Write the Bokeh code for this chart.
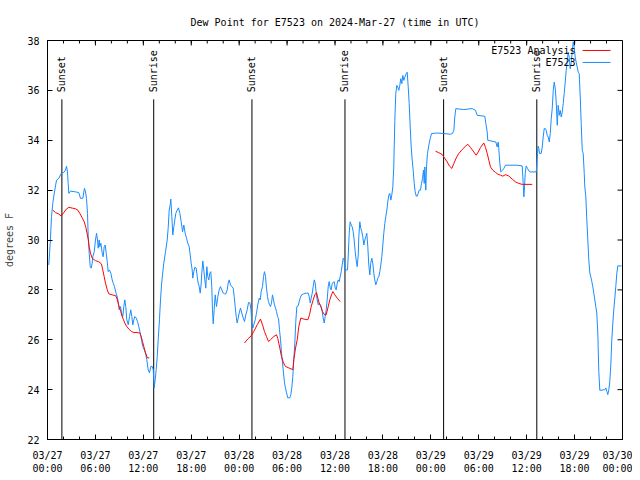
import math
from bokeh.plotting import figure
from bokeh.models import Range1d, FixedTicker, Label, Arrow
from bokeh.core.properties import value
from bokeh.embed import file_html
from bokeh.resources import INLINE

FONT = "DejaVu Sans Mono"

# hours after 2024-03-27 00:00 UTC, dew point in degrees F
obs_hours = [0.16, 0.34, 0.50, 0.66, 0.91, 1.13, 1.42, 1.72, 2.04, 2.25, 2.38, 2.50, 2.59, 2.67, 2.88, 3.51, 3.92, 4.13, 4.42, 4.63,
             4.76, 4.88, 5.01, 5.10, 5.22, 5.35, 5.47, 5.60, 5.67, 5.85, 6.01, 6.14, 6.26, 6.35, 6.47, 6.55, 6.68, 6.85, 6.97, 7.10,
             7.23, 7.35, 7.48, 7.60, 7.76, 7.93, 8.10, 8.23, 8.39, 8.60, 8.73, 8.85, 8.98, 9.14, 9.27, 9.43, 9.55, 9.68, 9.80, 9.93,
             10.11, 10.27, 10.43, 10.56, 10.68, 10.81, 10.93, 11.11, 11.27, 11.43, 11.61, 11.77, 11.93, 12.11, 12.27, 12.43, 12.61, 12.77, 12.94, 13.11,
             13.24, 13.36, 13.49, 13.61, 13.74, 13.86, 14.02, 14.15, 14.28, 14.40, 14.56, 14.78, 14.99, 15.11, 15.24, 15.36, 15.44, 15.57, 15.69, 15.82,
             15.94, 16.07, 16.24, 16.40, 16.57, 16.74, 16.91, 17.07, 17.24, 17.41, 17.57, 17.74, 17.87, 17.99, 18.12, 18.19, 18.32, 18.45, 18.62, 18.75,
             18.87, 19.00, 19.12, 19.25, 19.32, 19.45, 19.57, 19.70, 19.82, 19.95, 20.07, 20.20, 20.32, 20.45, 20.57, 20.66, 20.75, 20.87, 21.00, 21.16,
             21.33, 21.50, 21.66, 21.83, 22.00, 22.16, 22.33, 22.50, 22.63, 22.75, 22.92, 23.08, 23.25, 23.38, 23.50, 23.63, 23.75, 23.88, 24.00, 24.17,
             24.33, 24.51, 24.67, 24.83, 25.01, 25.17, 25.33, 25.46, 25.58, 25.71, 25.83, 26.01, 26.17, 26.33, 26.51, 26.63, 26.76, 26.92, 27.05, 27.17,
             27.30, 27.42, 27.55, 27.67, 27.80, 27.92, 28.05, 28.17, 28.30, 28.42, 28.55, 28.68, 28.80, 28.93, 29.05, 29.18, 29.30, 29.43, 29.55, 29.68,
             29.80, 29.93, 30.09, 30.34, 30.47, 30.59, 30.72, 30.84, 30.97, 31.09, 31.22, 31.39, 31.52, 31.64, 31.81, 32.06, 32.39, 32.65, 32.77, 32.90,
             33.02, 33.15, 33.27, 33.40, 33.52, 33.65, 33.77, 33.90, 34.02, 34.15, 34.27, 34.40, 34.52, 34.65, 34.77, 34.90, 35.02, 35.15, 35.27, 35.40,
             35.53, 35.65, 35.90, 36.03, 36.15, 36.28, 36.40, 36.53, 36.65, 36.78, 36.90, 37.03, 37.15, 37.23, 37.57, 37.69, 37.78, 37.90, 38.03, 38.15,
             38.28, 38.40, 38.53, 38.65, 38.78, 38.91, 38.98, 39.11, 39.23, 39.36, 39.48, 39.61, 39.73, 39.86, 39.98, 40.11, 40.23, 40.36, 40.48, 40.61,
             40.73, 40.86, 40.98, 41.11, 41.24, 41.36, 41.49, 41.61, 41.74, 41.86, 41.99, 42.11, 42.24, 42.36, 42.49, 42.61, 42.74, 42.86, 42.99, 43.11,
             43.24, 43.36, 43.49, 43.61, 43.74, 43.86, 43.99, 44.11, 44.24, 44.37, 44.49, 44.62, 44.74, 44.92, 45.04, 45.17, 45.29, 45.42, 45.54, 45.67,
             45.79, 45.92, 46.04, 46.17, 46.29, 46.42, 46.54, 46.71, 46.83, 46.96, 47.08, 47.17, 47.25, 47.37, 47.46, 47.58, 47.75, 47.92, 48.09, 48.80,
             49.62, 50.47, 50.71, 50.88, 51.00, 51.13, 52.13, 53.18, 53.60, 53.81, 54.76, 54.89, 55.06, 55.13, 56.14, 56.31, 56.44, 56.51, 56.64, 56.76,
             56.98, 57.14, 57.35, 58.82, 59.44, 59.52, 59.65, 59.73, 59.82, 59.94, 60.11, 60.27, 60.48, 61.20, 61.27, 61.36, 61.44, 61.52, 61.61, 61.82,
             61.95, 62.07, 62.20, 62.32, 62.45, 62.57, 62.70, 62.83, 62.95, 63.08, 63.20, 63.33, 63.45, 63.58, 63.70, 63.83, 63.95, 64.08, 64.20, 64.33,
             64.45, 64.58, 64.70, 64.83, 64.95, 65.08, 65.20, 65.33, 65.45, 65.58, 65.70, 65.83, 65.95, 66.08, 66.20, 66.33, 66.46, 66.58, 66.71, 66.83,
             66.96, 67.08, 67.21, 67.28, 67.41, 67.53, 67.66, 67.78, 67.91, 68.03, 68.16, 68.28, 68.41, 68.53, 68.66, 68.78, 68.91, 69.03, 69.16, 69.79,
             69.91, 70.04, 70.16, 70.29, 70.41, 70.54, 70.66, 70.79, 70.91, 71.04, 71.16, 71.29, 71.41, 71.88]
obs_dewpt = [29.00, 29.87, 30.93, 31.47, 32.00, 32.40, 32.47, 32.67, 32.71, 32.80, 32.96, 32.73, 32.27, 31.87, 31.96, 31.93, 31.90, 31.67, 31.67, 32.07,
             31.93, 31.67, 31.07, 30.13, 29.47, 28.93, 28.87, 29.07, 29.33, 29.53, 30.00, 30.27, 30.00, 29.67, 30.00, 29.73, 29.87, 29.47, 29.33, 29.73,
             29.80, 29.47, 29.13, 28.73, 28.80, 28.67, 28.40, 28.27, 28.13, 27.84, 27.73, 27.53, 27.20, 27.33, 27.07, 26.93, 27.33, 27.60, 27.33, 26.80,
             26.60, 26.93, 27.20, 26.93, 26.60, 26.80, 26.93, 26.87, 26.73, 26.53, 26.27, 26.00, 25.73, 25.60, 25.47, 25.20, 24.80, 24.67, 24.93, 24.93,
             24.80, 24.07, 24.40, 24.80, 25.33, 26.00, 26.80, 27.60, 28.20, 28.60, 29.07, 29.53, 30.00, 30.47, 31.20, 31.40, 31.64, 30.93, 30.20, 30.53,
             30.80, 31.07, 31.20, 31.29, 31.07, 30.73, 30.33, 30.60, 30.27, 30.07, 29.87, 29.73, 29.40, 29.07, 28.80, 28.47, 28.73, 28.91, 28.87, 28.53,
             28.27, 28.13, 27.87, 28.27, 28.67, 29.16, 28.80, 28.40, 28.07, 28.93, 28.53, 28.40, 28.67, 28.73, 28.13, 27.20, 26.64, 27.20, 27.80, 27.33,
             27.73, 28.00, 28.13, 28.00, 27.87, 27.84, 27.84, 28.00, 28.27, 28.40, 28.20, 28.13, 28.07, 27.73, 27.33, 26.93, 26.67, 26.87, 27.07, 27.27,
             27.07, 26.87, 26.73, 27.00, 27.20, 27.49, 27.49, 27.27, 26.67, 26.47, 26.60, 26.80, 27.07, 27.40, 27.67, 27.60, 27.93, 28.13, 28.53, 28.73,
             28.53, 28.07, 27.73, 27.53, 27.40, 27.33, 27.47, 27.80, 27.60, 27.40, 27.27, 27.13, 26.93, 26.85, 26.40, 26.00, 25.47, 25.07, 24.67, 24.27,
             24.07, 23.87, 23.67, 23.67, 23.80, 24.07, 24.53, 25.20, 25.87, 26.73, 27.33, 27.36, 27.53, 27.67, 27.80, 27.84, 27.87, 27.87, 27.73, 27.47,
             27.67, 27.87, 28.13, 28.40, 28.27, 27.87, 27.60, 27.40, 27.47, 27.40, 27.33, 27.13, 26.87, 26.67, 26.93, 27.20, 27.60, 28.13, 28.33, 28.07,
             28.00, 28.27, 28.33, 28.07, 28.00, 28.27, 28.40, 28.33, 28.53, 28.73, 29.00, 29.27, 29.20, 28.80, 28.80, 29.60, 30.27, 30.73, 30.60, 30.53,
             30.33, 30.00, 29.53, 29.20, 28.93, 29.40, 30.13, 30.73, 30.47, 30.33, 30.13, 29.80, 30.00, 30.13, 30.27, 29.73, 29.00, 28.60, 29.07, 29.27,
             29.07, 28.67, 28.40, 28.20, 28.33, 28.47, 28.53, 28.73, 29.00, 29.33, 29.80, 30.27, 30.67, 30.93, 31.20, 31.53, 31.80, 31.87, 31.60, 31.80,
             32.13, 32.93, 34.80, 35.87, 36.20, 36.13, 36.00, 36.20, 36.47, 36.27, 36.60, 36.40, 36.53, 36.67, 36.73, 36.13, 35.47, 34.53, 33.73, 33.20,
             32.80, 32.27, 31.93, 31.76, 31.76, 31.87, 32.00, 32.00, 32.27, 32.47, 32.80, 32.27, 32.93, 32.00, 32.93, 33.47, 33.80, 34.07, 34.27, 34.29,
             34.27, 34.24, 34.27, 34.40, 34.93, 35.27, 35.23, 35.27, 35.20, 35.00, 34.96, 34.67, 34.33, 34.00, 33.93, 33.73, 33.93, 33.67, 33.07, 32.73,
             32.80, 32.87, 33.00, 33.00, 32.97, 32.53, 31.73, 32.13, 32.67, 32.97, 32.87, 32.77, 32.73, 32.73, 33.00, 33.47, 33.76, 33.67, 33.47, 33.47,
             33.73, 34.13, 34.47, 34.47, 34.40, 34.20, 34.13, 33.93, 34.27, 34.87, 35.27, 36.00, 36.33, 36.07, 35.53, 34.60, 35.40, 35.00, 35.20, 34.93,
             35.13, 35.47, 35.87, 36.33, 36.80, 37.20, 37.53, 37.33, 36.87, 37.13, 37.53, 37.95, 37.73, 37.33, 37.13, 36.93, 36.73, 36.67, 35.73, 34.67,
             33.60, 33.47, 32.67, 32.13, 31.73, 30.80, 30.00, 29.20, 28.67, 28.53, 28.33, 28.13, 27.87, 27.60, 27.33, 27.07, 26.27, 24.73, 23.97, 24.00,
             24.07, 23.93, 23.80, 24.00, 24.33, 25.00, 26.00, 26.67, 27.20, 27.67, 28.13, 28.67, 28.96, 28.96]

ana1_hours = [0.66, 1.00, 1.42, 1.72, 2.04, 2.34, 2.67, 3.09, 3.51, 3.79, 4.04, 4.35, 4.60, 4.80, 4.97, 5.10, 5.22, 5.38, 5.60, 6.01,
              6.42, 6.76, 6.92, 7.10, 7.26, 7.48, 7.68, 8.10, 8.52, 8.68, 8.85, 9.02, 9.18, 9.35, 9.52, 9.68, 9.93, 10.18, 10.52, 10.81,
              11.23, 11.56, 11.73, 11.90, 12.06, 12.27, 12.52, 12.74]
ana1_dewpt = [31.20, 31.10, 31.04, 30.96, 31.10, 31.23, 31.31, 31.28, 31.25, 31.20, 31.07, 30.89, 30.73, 30.51, 30.24, 30.03, 29.73, 29.47, 29.27, 29.17,
              29.13, 29.04, 28.80, 28.53, 28.27, 28.00, 27.84, 27.80, 27.77, 27.67, 27.47, 27.27, 27.13, 26.93, 26.80, 26.67, 26.53, 26.43, 26.33, 26.29,
              26.29, 26.27, 26.13, 25.93, 25.73, 25.47, 25.27, 25.27]
ana2_hours = [24.67, 25.08, 25.51, 25.83, 26.26, 26.67, 26.92, 27.17, 27.42, 27.67, 27.92, 28.34, 28.68, 28.84, 29.09, 29.30, 29.55, 29.80, 30.22, 30.72,
              30.84, 31.06, 31.27, 31.47, 31.72, 32.10, 32.60, 32.81, 33.02, 33.27, 33.47, 33.69, 33.85, 34.02, 34.22, 34.44, 34.69, 34.90, 35.15, 35.35,
              35.56, 35.73, 35.98, 36.28, 36.65]
ana2_dewpt = [25.87, 26.03, 26.16, 26.33, 26.60, 26.83, 26.60, 26.33, 26.13, 25.93, 26.00, 26.13, 26.20, 26.05, 25.67, 25.33, 25.07, 24.93, 24.87, 24.80,
              25.20, 25.67, 26.00, 26.53, 26.87, 26.83, 26.80, 27.00, 27.33, 27.60, 27.80, 27.89, 27.67, 27.47, 27.33, 27.13, 27.00, 27.00, 27.33, 27.60,
              27.80, 27.93, 27.80, 27.67, 27.53]
ana3_hours = [48.59, 49.00, 49.42, 49.71, 50.05, 50.34, 50.63, 50.88, 51.18, 51.51, 51.93, 52.34, 52.63, 52.97, 53.38, 53.68, 53.93, 54.22, 54.63, 54.85,
              55.06, 55.26, 55.47, 55.76, 56.10, 56.39, 56.73, 57.02, 57.35, 57.76, 58.19, 58.60, 59.01, 59.44, 60.70]
ana3_dewpt = [33.56, 33.50, 33.43, 33.29, 33.13, 32.96, 32.87, 33.07, 33.29, 33.47, 33.63, 33.76, 33.84, 33.71, 33.53, 33.40, 33.53, 33.71, 33.89, 33.71,
              33.47, 33.20, 32.93, 32.80, 32.71, 32.64, 32.60, 32.56, 32.62, 32.57, 32.44, 32.33, 32.27, 32.23, 32.23]

event_hours = [1.8, 13.3, 25.6, 37.25, 49.6, 61.27]
event_labels = ["Sunset", "Sunrise", "Sunset", "Sunrise", "Sunset", "Sunrise"]

x_ticks = [0, 6, 12, 18, 24, 30, 36, 42, 48, 54, 60, 66, 72]
x_tick_labels = ["03/27\n00:00", "03/27\n06:00", "03/27\n12:00", "03/27\n18:00",
                 "03/28\n00:00", "03/28\n06:00", "03/28\n12:00", "03/28\n18:00",
                 "03/29\n00:00", "03/29\n06:00", "03/29\n12:00", "03/29\n18:00",
                 "03/30\n00:00"]
x_minor = list(range(0, 73, 2))
y_ticks = [22, 24, 26, 28, 30, 32, 34, 36, 38]

TITLE = "Dew Point for E7523 on 2024-Mar-27 (time in UTC)"
BLUE = "#1a8cff"
RED = "#ff0000"

X0, X1, Y0, Y1 = 0, 72, 22, 38

p = figure(width=632, height=476, output_backend="svg", toolbar_location=None,
           x_range=Range1d(X0, X1), y_range=Range1d(Y0, Y1),
           min_border_left=47, min_border_right=10, min_border_top=40, min_border_bottom=36,
           title=TITLE)
p.title.text_font = FONT
p.title.text_font_size = "10px"
p.title.text_font_style = "normal"
p.title.text_color = "black"
p.title.align = "center"
p.title.standoff = 26
p.xgrid.visible = False
p.ygrid.visible = False
p.outline_line_color = "black"
p.background_fill_color = "white"
p.border_fill_color = "white"


def style_axis(ax):
    ax.axis_line_color = "black"
    ax.major_tick_in = 5
    ax.major_tick_out = 0
    ax.minor_tick_in = 3
    ax.minor_tick_out = 0
    ax.major_tick_line_color = "black"
    ax.minor_tick_line_color = "black"
    ax.major_label_text_font = FONT
    ax.major_label_text_font_size = "10px"
    ax.major_label_text_color = "black"
    ax.major_label_standoff = 8


p.xaxis[0].ticker = FixedTicker(ticks=x_ticks, minor_ticks=x_minor)
p.xaxis[0].major_label_overrides = {t: l for t, l in zip(x_ticks, x_tick_labels)}
style_axis(p.xaxis[0])
p.xaxis[0].major_label_standoff = 10
p.yaxis[0].ticker = FixedTicker(ticks=y_ticks, minor_ticks=[])
style_axis(p.yaxis[0])
p.yaxis[0].axis_label = "degrees F"
p.yaxis[0].axis_label_text_font = FONT
p.yaxis[0].axis_label_text_font_size = "10px"
p.yaxis[0].axis_label_text_font_style = "normal"
p.yaxis[0].axis_label_standoff = 9

# mirrored tick marks on the top and right borders (gnuplot style)
p.ray(x=x_ticks, y=[Y1] * len(x_ticks), length=5, length_units="screen",
      angle=-math.pi / 2, line_color="black", line_width=1)
p.ray(x=x_minor, y=[Y1] * len(x_minor), length=3, length_units="screen",
      angle=-math.pi / 2, line_color="black", line_width=1)
p.ray(x=[X1] * len(y_ticks), y=y_ticks, length=5, length_units="screen",
      angle=math.pi, line_color="black", line_width=1)

# sunrise / sunset markers
p.segment(x0=event_hours, y0=[Y0] * len(event_hours), x1=event_hours, y1=[35.64] * len(event_hours),
          line_color="black", line_width=1)
p.text(x=event_hours, y=[35.92] * len(event_hours), text=event_labels, angle=math.pi / 2,
       text_align="left", text_baseline="middle", text_font=value(FONT),
       text_font_size="10px", text_color="black")

# series
p.line(obs_hours, obs_dewpt, line_color=BLUE, line_width=1)
for hx, hy in ((ana1_hours, ana1_dewpt), (ana2_hours, ana2_dewpt), (ana3_hours, ana3_dewpt)):
    p.line(hx, hy, line_color=RED, line_width=1)

# gnuplot-style key (text right-aligned, sample line on the right)
legend_names = ["E7523 Analysis", "E7523"]
legend_colors = [RED, BLUE]
legend_y = [37.6, 37.12]
for name, col, ly in zip(legend_names, legend_colors, legend_y):
    p.add_layout(Label(x=66.12, y=ly, text=name, text_align="right", text_baseline="middle",
                       text_font=FONT, text_font_size="10px", text_color="black"))
    p.add_layout(Arrow(end=None, x_start=67.0, y_start=ly, x_end=70.5, y_end=ly,
                       line_color=col, line_width=1))

open("out.html", "w").write(file_html(p, INLINE))
